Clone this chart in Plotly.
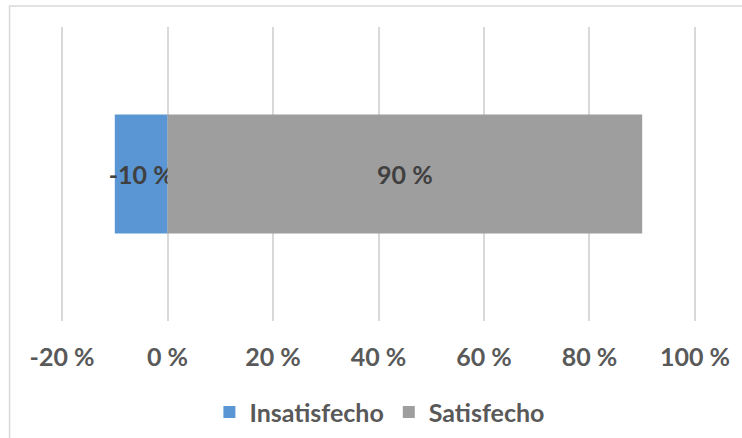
import plotly.graph_objects as go

categories = [""]
series_names = ["Insatisfecho", "Satisfecho"]
insatisfecho = [-10]
satisfecho = [90]
tick_vals = [-20, 0, 20, 40, 60, 80, 100]
tick_text = ["-20 %", "0 %", "20 %", "40 %", "60 %", "80 %", "100 %"]

FONT = "Lato"
SIZE = 25
fig = go.Figure()
fig.add_trace(go.Bar(
    y=categories, x=insatisfecho, orientation="h", name=series_names[0],
    marker=dict(color="#5A95D4", line=dict(width=0)),
    text=[f"{v} %" for v in insatisfecho], textposition="inside",
    insidetextanchor="middle", textangle=0, constraintext="none",
    textfont=dict(family=FONT, size=SIZE, color="#404040", weight="bold"),
    hoverinfo="skip",
))
fig.add_trace(go.Bar(
    y=categories, x=satisfecho, orientation="h", name=series_names[1],
    marker=dict(color="#9E9E9E", line=dict(width=0)),
    text=[f"{v} %" for v in satisfecho], textposition="inside",
    insidetextanchor="middle", textangle=0, constraintext="none",
    textfont=dict(family=FONT, size=SIZE, color="#404040", weight="bold"),
    hoverinfo="skip",
))

fig.update_layout(
    width=742, height=438,
    margin=dict(l=61, r=42, t=27, b=117),
    barmode="relative", bargap=0.595,
    plot_bgcolor="white", paper_bgcolor="white",
    font=dict(family=FONT, color="#595959"),
    xaxis=dict(range=[-20.2, 100.2], tickvals=tick_vals, ticktext=tick_text,
               showgrid=True, gridcolor="#D9D9D9", gridwidth=1.5,
               zeroline=False, showline=False, ticks="",
               ticklabelstandoff=19,
               tickfont=dict(family=FONT, size=SIZE, color="#595959", weight="bold")),
    yaxis=dict(range=[-0.5, 0.5], showticklabels=False, showgrid=False,
               zeroline=False, showline=False),
    legend=dict(orientation="h", x=0.512, xanchor="center", xref="container",
                y=0.059, yanchor="middle", yref="container",
                font=dict(family=FONT, size=SIZE, color="#595959", weight="bold"),
                itemwidth=30, traceorder="normal"),
    showlegend=True,
    shapes=[dict(type="rect", xref="paper", yref="paper",
                 x0=-0.081, x1=1.3, y0=-0.5, y1=1.0714,
                 line=dict(color="#D9D9D9", width=1.5), fillcolor="rgba(0,0,0,0)",
                 layer="below")],
)

fig.write_html("out.html")
